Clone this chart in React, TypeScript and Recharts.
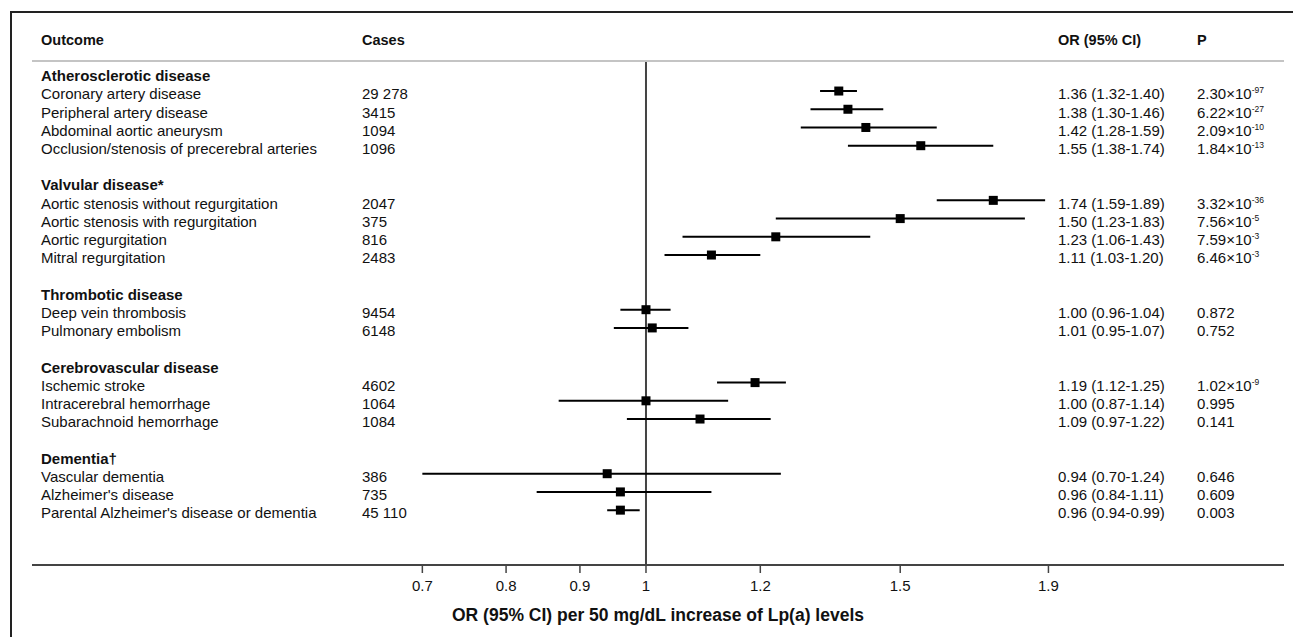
import { ScatterChart, Scatter, XAxis, YAxis, ErrorBar, ReferenceLine, Customized } from 'recharts';

const groups = [
  'Atherosclerotic disease',
  'Valvular disease*',
  'Thrombotic disease',
  'Cerebrovascular disease',
  'Dementia†',
];

const outcomes = [
  'Coronary artery disease',
  'Peripheral artery disease',
  'Abdominal aortic aneurysm',
  'Occlusion/stenosis of precerebral arteries',
  'Aortic stenosis without regurgitation',
  'Aortic stenosis with regurgitation',
  'Aortic regurgitation',
  'Mitral regurgitation',
  'Deep vein thrombosis',
  'Pulmonary embolism',
  'Ischemic stroke',
  'Intracerebral hemorrhage',
  'Subarachnoid hemorrhage',
  'Vascular dementia',
  "Alzheimer's disease",
  "Parental Alzheimer's disease or dementia",
];
const outcomeGroup = [0, 0, 0, 0, 1, 1, 1, 1, 2, 2, 3, 3, 3, 4, 4, 4];
const cases = ['29 278', '3415', '1094', '1096', '2047', '375', '816', '2483', '9454', '6148', '4602', '1064', '1084', '386', '735', '45 110'];
const orValues = [1.36, 1.38, 1.42, 1.55, 1.74, 1.5, 1.23, 1.11, 1.0, 1.01, 1.19, 1.0, 1.09, 0.94, 0.96, 0.96];
const ciLow = [1.32, 1.3, 1.28, 1.38, 1.59, 1.23, 1.06, 1.03, 0.96, 0.95, 1.12, 0.87, 0.97, 0.7, 0.84, 0.94];
const ciHigh = [1.4, 1.46, 1.59, 1.74, 1.89, 1.83, 1.43, 1.2, 1.04, 1.07, 1.25, 1.14, 1.22, 1.24, 1.11, 0.99];
const pValues = ['2.30', '6.22', '2.09', '1.84', '3.32', '7.56', '7.59', '6.46', '0.872', '0.752', '1.02', '0.995', '0.141', '0.646', '0.609', '0.003'];
const pExponents: (number | null)[] = [-97, -27, -10, -13, -36, -5, -3, -3, null, null, -9, null, null, null, null, null];
const xTicks = [0.7, 0.8, 0.9, 1, 1.2, 1.5, 1.9];

const FONT = '"Liberation Sans", Arial, Helvetica, sans-serif';
const INK = '#111';

type Row = { kind: 'group' | 'outcome'; label: string; i: number; row: number };
const rows: Row[] = [];
let r = 0;
groups.forEach((g, gi) => {
  rows.push({ kind: 'group', label: g, i: -1, row: r++ });
  outcomes.forEach((o, i) => {
    if (outcomeGroup[i] === gi) rows.push({ kind: 'outcome', label: o, i, row: r++ });
  });
  r++;
});

const points = rows
  .filter((d) => d.kind === 'outcome')
  .map((d) => ({
    row: d.row,
    or: orValues[d.i],
    err: [orValues[d.i] - ciLow[d.i], ciHigh[d.i] - orValues[d.i]],
  }));

const fmt = (v: number) => v.toFixed(2);

const RowTick = ({ y, payload }: any) => {
  const row = rows.find((d) => d.row === payload.value);
  if (!row) return null;
  const by = y + 8.3;
  if (row.kind === 'group') {
    return (
      <text x={41} y={by} fontSize={15} fontWeight={700} fill={INK} fontFamily={FONT}>
        {row.label}
      </text>
    );
  }
  const i = row.i;
  const exp = pExponents[i];
  return (
    <g fontSize={15} fill={INK} fontFamily={FONT}>
      <text x={41} y={by}>{row.label}</text>
      <text x={362} y={by}>{cases[i]}</text>
      <text x={1058} y={by}>{`${fmt(orValues[i])} (${fmt(ciLow[i])}-${fmt(ciHigh[i])})`}</text>
      <text x={1197} y={by}>
        {exp === null ? pValues[i] : `${pValues[i]}×10`}
        {exp !== null && (
          <tspan fontSize={8.5} dy={-6}>
            {String(exp)}
          </tspan>
        )}
      </text>
    </g>
  );
};

const Square = ({ cx, cy }: any) => <rect x={cx - 4.5} y={cy - 4.5} width={9} height={9} fill="#000" />;

const Header = () => (
  <g fontSize={14.5} fontWeight={700} fill={INK} fontFamily={FONT}>
    <text x={41} y={44.5}>Outcome</text>
    <text x={362} y={44.5}>Cases</text>
    <text x={1058} y={44.5}>OR (95% CI)</text>
    <text x={1197} y={44.5}>P</text>
  </g>
);

export default function App() {
  return (
    <div style={{ position: 'absolute', left: 0, top: 0, width: 1293, height: 637, overflow: 'hidden', background: '#fff' }}>
      <div
        style={{
          position: 'absolute',
          left: 10,
          top: 11,
          width: 1283,
          height: 626,
          boxSizing: 'border-box',
          borderTop: '2px solid #222',
          borderLeft: '2px solid #222',
        }}
      />
      <div style={{ position: 'absolute', left: 0, top: 0 }}>
        <ScatterChart width={1293} height={637} margin={{ top: 60, right: 9, bottom: 0, left: 31 }}>
          <XAxis
            dataKey="or"
            type="number"
            scale="log"
            domain={[0.3756, 2.7664]}
            allowDataOverflow
            ticks={xTicks}
            interval={0}
            tickFormatter={(v) => String(v)}
            tick={{ fontSize: 15, fill: INK, fontFamily: FONT }}
            tickSize={8}
            tickMargin={7}
            height={72}
            axisLine={{ stroke: '#444', strokeWidth: 2 }}
            tickLine={{ stroke: '#444', strokeWidth: 1.5 }}
            label={{
              value: 'OR (95% CI) per 50 mg/dL increase of Lp(a) levels',
              position: 'insideBottom',
              offset: 16,
              fontSize: 17.5,
              fontWeight: 700,
              fill: INK,
              fontFamily: FONT,
            }}
          />
          <XAxis
            xAxisId="top"
            orientation="top"
            type="number"
            domain={[0, 1]}
            tick={false}
            tickLine={false}
            height={1}
            axisLine={{ stroke: '#c4c4c4', strokeWidth: 2 }}
          />
          <YAxis
            dataKey="row"
            type="number"
            domain={[-0.648, 27.01]}
            reversed
            allowDataOverflow
            ticks={rows.map((d) => d.row)}
            interval={0}
            width={1}
            axisLine={false}
            tickLine={false}
            tick={<RowTick />}
          />
          <ReferenceLine x={1} stroke="#444" strokeWidth={2} />
          <Scatter data={points} shape={<Square />} isAnimationActive={false}>
            <ErrorBar dataKey="err" direction="x" width={0} stroke="#000" strokeWidth={2} />
          </Scatter>
          <Customized component={Header} />
        </ScatterChart>
      </div>
    </div>
  );
}
